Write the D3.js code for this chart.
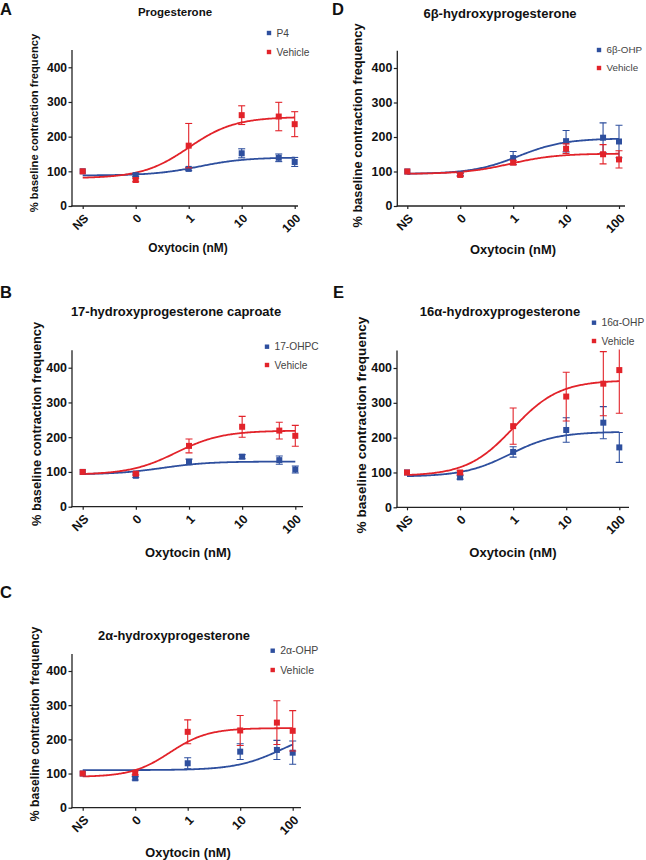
<!DOCTYPE html>
<html><head><meta charset="utf-8">
<script src="https://cdn.jsdelivr.net/npm/d3@7"></script>
<style>
html,body{margin:0;padding:0;background:#fff;}
svg{display:block;font-family:"Liberation Sans",Arial,sans-serif;}
</style></head>
<body>
<svg id="chart" width="646" height="860"></svg>
<script>
// ---------- DATA ----------
// dose positions on the log axis (NS and 0 placed one and two decades below 1 nM)
const doses = ["NS", "0", "1", "10", "50", "100"];
const dosePos = [0.01, 0.1, 1, 10, 50, 100];
const xTickValues = [0.01, 0.1, 1, 10, 100];
const xTickLabels = ["NS", "0", "1", "10", "100"];
const yTickValues = [0, 100, 200, 300, 400];

// Panel A: Progesterone
const p4Mean  = [100, 89, 107, 152, 139, 127];
const p4Err   = [0, 4, 5, 13, 11, 13];
const vehAMean = [100, 75, 174, 262, 258, 236];
const vehAErr  = [0, 5, 64, 27, 41, 36];
const p4Fit   = [88, 140, 0.2, 1];     // bottom, top, logEC50, hill
const vehAFit = [80, 257, 0.0, 1];

// Panel B: 17-hydroxyprogesterone caproate
const ohpcMean = [100, 89, 129, 144, 134, 107];
const ohpcErr  = [0, 5, 8, 6, 12, 10];
const vehBMean = [100, 95, 175, 230, 219, 204];
const vehBErr  = [0, 4, 20, 30, 24, 30];
const ohpcFit  = [93, 130, -0.5, 1];
const vehBFit  = [92, 219, -0.245, 1];

// Panel C: 2α-hydroxyprogesterone
const ohp2Mean = [100, 86, 130, 164, 169, 161];
const ohp2Err  = [0, 5, 16, 23, 28, 34];
const vehCMean = [100, 102, 222, 226, 249, 225];
const vehCErr  = [0, 6, 35, 44, 64, 59];
const ohp2Fit  = [110, 231, 1.79, 1];
const vehCFit  = [90, 233, -0.34, 1.2];

// Panel D: 6β-hydroxyprogesterone
const ohp6Mean = [100, 92, 139, 188, 198, 187];
const ohp6Err  = [0, 4, 19, 31, 43, 47];
const vehDMean = [100, 90, 126, 166, 150, 135];
const vehDErr  = [0, 4, 6, 14, 28, 25];
const ohp6Fit  = [93, 196, 0.1, 1];
const vehDFit  = [93, 152, -0.05, 1];

// Panel E: 16α-hydroxyprogesterone
const ohp16Mean = [100, 86, 159, 222, 243, 172];
const ohp16Err  = [0, 5, 15, 35, 46, 43];
const vehEMean  = [100, 100, 233, 318, 355, 394];
const vehEErr   = [0, 5, 52, 70, 92, 124];
const ohp16Fit  = [88, 217, -0.06, 1];
const vehEFit   = [90, 365, 0.0, 1];

const BLUE = "#2e4f9e", RED = "#e2232a";

// ---------- LAYOUT ----------
const panels = [
  {letter:"A", lx:0, ly:15, title:"Progesterone", tx:175, ty:16, tf:11.5,
   left:72, bottom:206, y400:67.3, xNS:82.7, x100:294.7, right:298,
   ylx:34, yly:123, ylf:11.2, xlx:188, xly:252, xlf:11.9, tkf:12,
   legX:269, legY1:33, legY2:52, legF:10.2,
   treat:{name:"P4", mean:p4Mean, err:p4Err, fit:p4Fit},
   veh:{name:"Vehicle", mean:vehAMean, err:vehAErr, fit:vehAFit}},
  {letter:"B", lx:0, ly:298, title:"17-hydroxyprogesterone caproate", tx:176, ty:316, tf:13,
   left:72, bottom:506.7, y400:367.7, xNS:82.7, x100:295.3, right:303,
   ylx:36.5, yly:424, ylf:12.8, xlx:188, xly:557, xlf:12.9, tkf:12.4,
   legX:267, legY1:346.7, legY2:365, legF:10.2,
   treat:{name:"17-OHPC", mean:ohpcMean, err:ohpcErr, fit:ohpcFit},
   veh:{name:"Vehicle", mean:vehBMean, err:vehBErr, fit:vehBFit}},
  {letter:"C", lx:0, ly:598, title:"2α-hydroxyprogesterone", tx:174, ty:640, tf:12.9,
   left:72, bottom:807.7, y400:671, xNS:82.7, x100:292.7, right:301,
   ylx:35, yly:724, ylf:12.2, xlx:188, xly:857, xlf:12.8, tkf:12.4,
   legX:272.7, legY1:650.7, legY2:670, legF:10.5,
   treat:{name:"2α-OHP", mean:ohp2Mean, err:ohp2Err, fit:ohp2Fit},
   veh:{name:"Vehicle", mean:vehCMean, err:vehCErr, fit:vehCFit}},
  {letter:"D", lx:332, ly:15, title:"6β-hydroxyprogesterone", tx:500, ty:17.5, tf:13,
   left:397.3, bottom:206, y400:68, xNS:407.3, x100:619, right:625,
   ylx:358, yly:125.5, ylf:12.8, xlx:513, xly:254, xlf:12.9, tkf:12.4,
   legX:599, legY1:50, legY2:68, legF:9.8,
   treat:{name:"6β-OHP", mean:ohp6Mean, err:ohp6Err, fit:ohp6Fit},
   veh:{name:"Vehicle", mean:vehDMean, err:vehDErr, fit:vehDFit}},
  {letter:"E", lx:333, ly:298, title:"16α-hydroxyprogesterone", tx:500, ty:316, tf:13,
   left:397, bottom:507.3, y400:368, xNS:407, x100:619.3, right:629,
   ylx:361, yly:425, ylf:13.6, xlx:513, xly:557, xlf:13.1, tkf:12.4,
   legX:594, legY1:322.7, legY2:341, legF:10.2,
   treat:{name:"16α-OHP", mean:ohp16Mean, err:ohp16Err, fit:ohp16Fit},
   veh:{name:"Vehicle", mean:vehEMean, err:vehEErr, fit:vehEFit}}
];

const svg = d3.select("#chart");
const logistic = (p, lx) => p[0] + (p[1] - p[0]) / (1 + Math.pow(10, (p[2] - lx) * p[3]));

panels.forEach((P, pi) => {
  const g = svg.append("g");
  const x = d3.scaleLog().domain([0.01, 100]).range([P.xNS, P.x100]);
  const y = d3.scaleLinear().domain([0, 400]).range([P.bottom, P.y400]);
  const yTop = y(450);

  // clip
  const cid = "clip" + pi;
  svg.append("defs").append("clipPath").attr("id", cid)
    .append("rect").attr("x", P.left).attr("y", yTop - 1)
    .attr("width", P.right - P.left + 20).attr("height", P.bottom - yTop + 10);

  // letter & title
  g.append("text").attr("x", P.lx).attr("y", P.ly).text(P.letter)
    .attr("font-size", 16.5).attr("font-weight", "bold").attr("fill", "#111");
  g.append("text").attr("x", P.tx).attr("y", P.ty).text(P.title)
    .attr("text-anchor", "middle").attr("font-size", P.tf).attr("font-weight", "bold").attr("fill", "#111");

  // y axis
  const yAxis = d3.axisLeft(y).tickValues(yTickValues).tickSize(3.5).tickPadding(1.5).tickFormat(d3.format("d"));
  const ya = g.append("g").attr("transform", `translate(${P.left},0)`).call(yAxis);
  ya.select(".domain").remove();
  ya.selectAll(".tick line").attr("stroke", "#222").attr("stroke-width", 1.2);
  ya.selectAll(".tick text").attr("font-size", P.tkf).attr("font-weight", "bold")
    .attr("fill", "#111").attr("font-family", "Liberation Sans, Arial, sans-serif");
  g.append("line").attr("x1", P.left).attr("x2", P.left).attr("y1", yTop).attr("y2", P.bottom + 0.6)
    .attr("stroke", "#222").attr("stroke-width", 1.3);

  // x axis
  const xAxis = d3.axisBottom(x).tickValues(xTickValues).tickSize(3).tickFormat((d, i) => xTickLabels[i]);
  const xa = g.append("g").attr("transform", `translate(0,${P.bottom})`).call(xAxis);
  xa.select(".domain").remove();
  xa.selectAll(".tick line").attr("stroke", "#222").attr("stroke-width", 1.2);
  xa.selectAll(".tick text")
    .attr("font-size", P.tkf).attr("font-weight", "bold").attr("fill", "#111")
    .attr("font-family", "Liberation Sans, Arial, sans-serif")
    .attr("text-anchor", "end").attr("y", 0).attr("dy", "0.35em")
    .attr("transform", "translate(3,10) rotate(-45)");
  g.append("line").attr("x1", P.left - 0.6).attr("x2", P.right).attr("y1", P.bottom).attr("y2", P.bottom)
    .attr("stroke", "#222").attr("stroke-width", 1.3);

  // axis labels
  g.append("text").attr("transform", `translate(${P.ylx},${P.yly}) rotate(-90)`)
    .attr("text-anchor", "middle").attr("dy", "0.35em").attr("font-size", P.ylf).attr("font-weight", "bold")
    .attr("fill", "#111").text("% baseline contraction frequency");
  g.append("text").attr("x", P.xlx).attr("y", P.xly).attr("text-anchor", "middle")
    .attr("font-size", P.xlf).attr("font-weight", "bold").attr("fill", "#111").text("Oxytocin (nM)");

  // data
  const plot = g.append("g").attr("clip-path", `url(#${cid})`);
  const line = d3.line().x(d => x(Math.pow(10, d[0]))).y(d => y(d[1]));
  const series = [{s:P.treat, c:BLUE}, {s:P.veh, c:RED}];
  series.forEach(({s, c}) => {
    const pts = d3.range(-2, 2.0001, 0.02).map(lx => [lx, logistic(s.fit, lx)]);
    plot.append("path").attr("d", line(pts)).attr("fill", "none").attr("stroke", c).attr("stroke-width", 1.8);
  });
  series.forEach(({s, c}) => {
    const rows = dosePos.map((d, i) => ({d, m: s.mean[i], e: s.err[i]}));
    const eb = plot.append("g").attr("stroke", c).attr("stroke-width", 1.1);
    rows.filter(r => r.e > 0).forEach(r => {
      const cx = x(r.d);
      eb.append("line").attr("x1", cx).attr("x2", cx).attr("y1", y(r.m - r.e)).attr("y2", y(r.m + r.e));
      [r.m - r.e, r.m + r.e].forEach(v => eb.append("line")
        .attr("x1", cx - 3.5).attr("x2", cx + 3.5).attr("y1", y(v)).attr("y2", y(v)));
    });
    plot.append("g").selectAll("rect").data(rows).join("rect")
      .attr("x", r => x(r.d) - 3).attr("y", r => y(r.m) - 3)
      .attr("width", 6).attr("height", 6).attr("fill", c);
  });

  // legend
  [[P.treat.name, BLUE, P.legY1], [P.veh.name, RED, P.legY2]].forEach(([name, c, ly]) => {
    g.append("rect").attr("x", P.legX - 2.2).attr("y", ly - 2.2).attr("width", 4.4).attr("height", 4.4).attr("fill", c);
    g.append("text").attr("x", P.legX + 7.5).attr("y", ly).attr("dy", "0.35em")
      .attr("font-size", P.legF).attr("fill", "#444").text(name);
  });
});
</script>
</body></html>
